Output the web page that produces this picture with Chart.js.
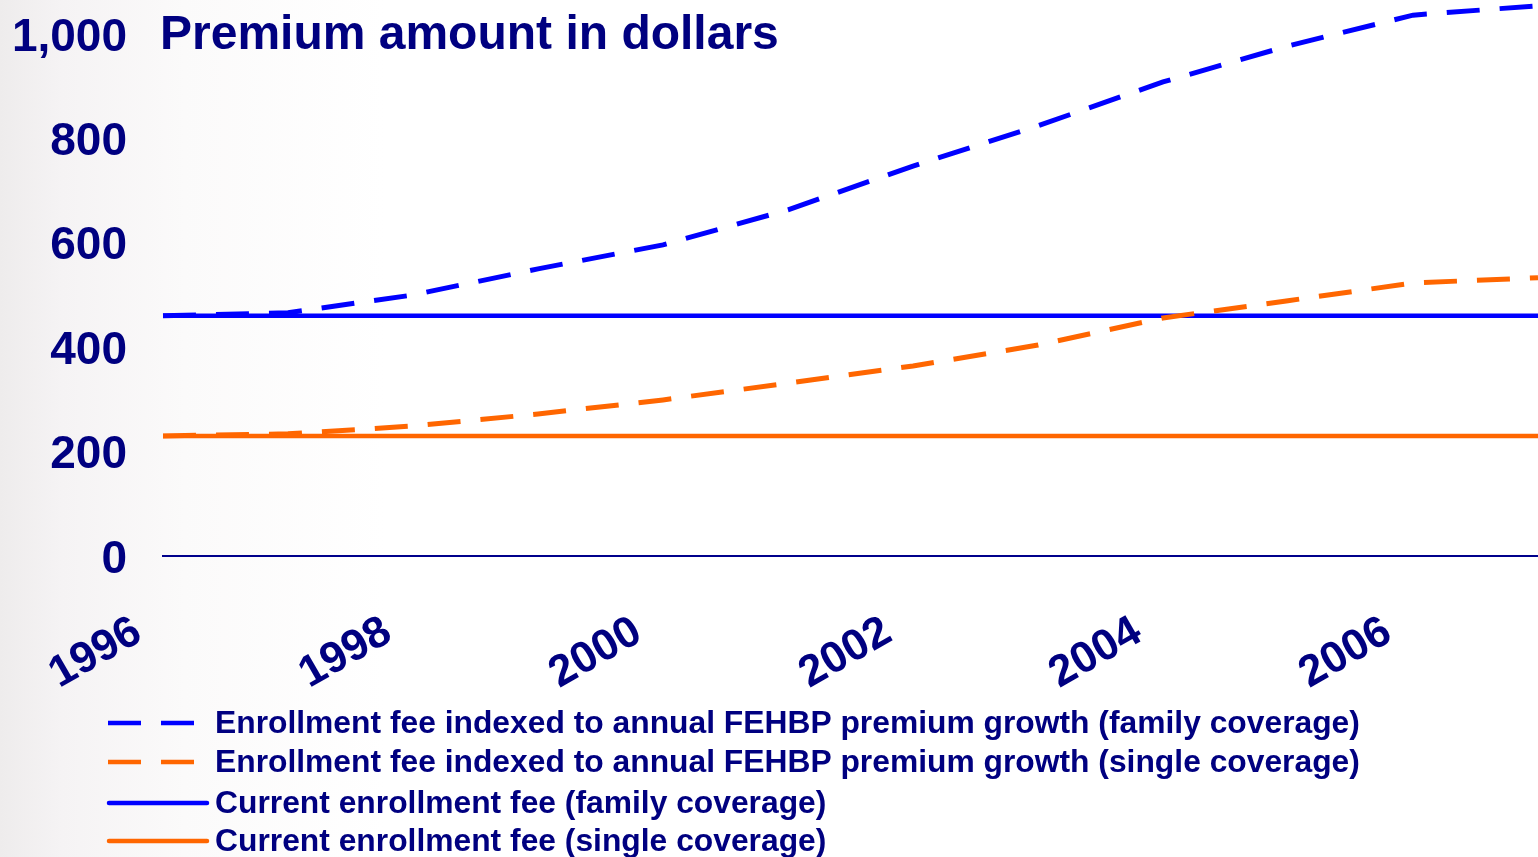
<!DOCTYPE html>
<html>
<head>
<meta charset="utf-8">
<script src="https://cdn.jsdelivr.net/npm/chart.js@4.4.1/dist/chart.umd.min.js"></script>
<style>
  html, body { margin: 0; padding: 0; }
  body {
    width: 1538px; height: 857px; overflow: hidden;
    background: linear-gradient(90deg, #eeecec 0%, #f5f3f4 4%, #fbfafa 12%, #ffffff 25%);
  }
  canvas { display: block; }
</style>
</head>
<body>
<canvas id="c" width="1538" height="857"></canvas>
<script>
// ---- data ----
const years = ['1996','1997','1998','1999','2000','2001','2002','2003','2004','2005','2006','2007'];
const indexedFamily = [460, 466, 500, 550, 596, 663, 747, 824, 908, 977, 1036, 1054];
const indexedSingle = [230, 234, 249, 272, 299, 331, 364, 404, 456, 489, 523, 533];
const currentFamily = [460, 460, 460, 460, 460, 460, 460, 460, 460, 460, 460, 460];
const currentSingle = [230, 230, 230, 230, 230, 230, 230, 230, 230, 230, 230, 230];
const yTickValues = [0, 200, 400, 600, 800, 1000];
const xTickLabels = ['1996', '1998', '2000', '2002', '2004', '2006'];
const seriesLabels = [
  'Enrollment fee indexed to annual FEHBP premium growth (family coverage)',
  'Enrollment fee indexed to annual FEHBP premium growth (single coverage)',
  'Current enrollment fee (family coverage)',
  'Current enrollment fee (single coverage)'
];
const titleText = 'Premium amount in dollars';

// ---- styles ----
const NAVY = '#000080';
const BLUE = '#0000FF';
const ORANGE = '#FF6600';
const FONT = '"Liberation Sans", Arial, Helvetica, sans-serif';

const overlay = {
  id: 'overlay',
  afterDraw(chart) {
    const ctx = chart.ctx;
    ctx.save();
    // title
    ctx.fillStyle = NAVY;
    ctx.font = 'bold 48px ' + FONT;
    ctx.textAlign = 'left';
    ctx.textBaseline = 'alphabetic';
    ctx.fillText(titleText, 160, 49);
    // legend
    const rowY = [723, 762, 803, 841];
    chart.data.datasets.forEach((ds, i) => {
      const y = rowY[i];
      ctx.strokeStyle = ds.borderColor;
      ctx.lineWidth = 4.5;
      if (ds.borderDash && ds.borderDash.length) {
        ctx.setLineDash(ds.borderDash);
        ctx.lineCap = 'butt';
        ctx.beginPath(); ctx.moveTo(108, y); ctx.lineTo(196, y); ctx.stroke();
      } else {
        ctx.setLineDash([]);
        ctx.lineCap = 'round';
        ctx.beginPath(); ctx.moveTo(109, y); ctx.lineTo(207, y); ctx.stroke();
      }
      ctx.setLineDash([]);
      ctx.fillStyle = NAVY;
      ctx.font = 'bold 31.8px ' + FONT;
      ctx.textBaseline = 'middle';
      ctx.fillText(ds.label, 215, y + 1);
    });
    ctx.restore();
  }
};

new Chart(document.getElementById('c'), {
  type: 'line',
  data: {
    labels: years,
    datasets: [
      { label: seriesLabels[0], data: indexedFamily, borderColor: BLUE, borderWidth: 5, borderDash: [33, 20], pointRadius: 0, tension: 0, fill: false },
      { label: seriesLabels[1], data: indexedSingle, borderColor: ORANGE, borderWidth: 5, borderDash: [33, 20], pointRadius: 0, tension: 0, fill: false },
      { label: seriesLabels[2], data: currentFamily, borderColor: BLUE, borderWidth: 4.5, pointRadius: 0, tension: 0, fill: false },
      { label: seriesLabels[3], data: currentSingle, borderColor: ORANGE, borderWidth: 4.5, pointRadius: 0, tension: 0, fill: false }
    ]
  },
  options: {
    responsive: false,
    animation: false,
    clip: false,
    layout: { padding: { left: 0, right: 0, top: 0, bottom: 165 } },
    plugins: { legend: { display: false }, title: { display: false }, tooltip: { enabled: false } },
    scales: {
      x: {
        type: 'category',
        offset: false,
        grid: { display: false, drawTicks: false },
        border: { display: true, color: '#00008B', width: 2 },
        afterFit(s) { s.height = 136; s.paddingLeft = 0; s.paddingRight = 0; },
        ticks: {
          autoSkip: false,
          minRotation: 30,
          maxRotation: 30,
          padding: 50,
          labelOffset: -25,
          color: NAVY,
          font: { family: FONT, size: 44, weight: 'bold' },
          callback(v, i) { const l = this.getLabelForValue(v); return xTickLabels.includes(l) ? l : ''; }
        }
      },
      y: {
        min: 0,
        max: 1065,
        grid: { display: false, drawTicks: false },
        border: { display: false },
        afterFit(s) { s.width = 163; s.paddingTop = 0; s.paddingBottom = 0; },
        afterBuildTicks(s) { s.ticks = yTickValues.map(v => ({ value: v })); },
        ticks: {
          padding: 36,
          labelOffset: 4,
          color: NAVY,
          font: { family: FONT, size: 46, weight: 'bold' },
          callback(v) { return v.toLocaleString('en-US'); }
        }
      }
    }
  },
  plugins: [overlay]
});
</script>
</body>
</html>
